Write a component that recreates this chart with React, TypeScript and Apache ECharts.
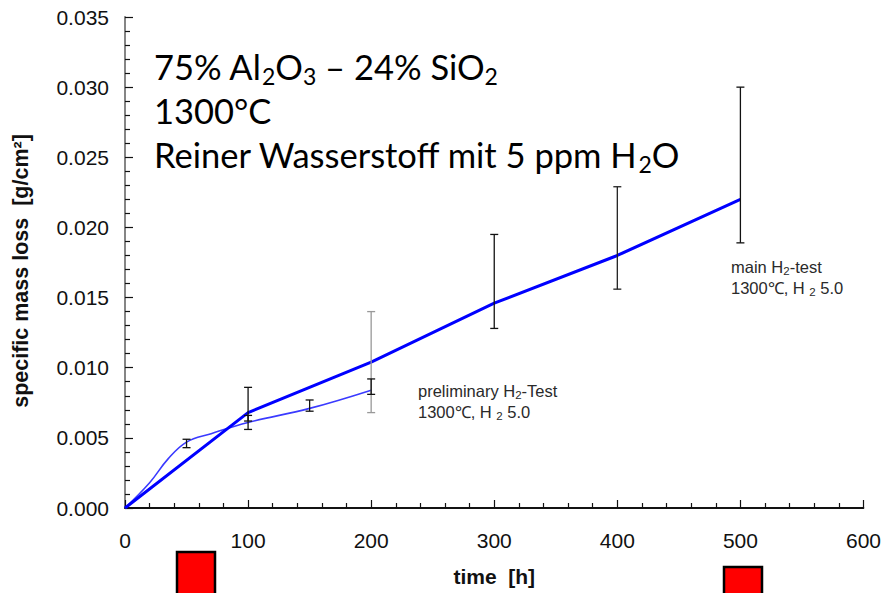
import React, { useEffect, useRef } from 'react';
import * as echarts from 'echarts';

// ---- data ----
const mainTimes = [0, 100, 200, 300, 400, 500];
const mainLoss = [0, 0.0068, 0.0104, 0.0146, 0.018, 0.022];
const mainErrTimes = [100, 200, 300, 400, 500];
const mainErrLow = [0.0056, 0.0068, 0.0128, 0.0156, 0.0189];
const mainErrHigh = [0.0086, 0.014, 0.0195, 0.0229, 0.03];

const prelimTimes = [0, 20, 35, 50, 70, 100, 150, 200];
const prelimLoss = [0, 0.0018, 0.0035, 0.0047, 0.0053, 0.0061, 0.0071, 0.0084];
const prelimErrTimes = [50, 100, 150, 200];
const prelimErrLow = [0.0043, 0.0062, 0.0069, 0.0081];
const prelimErrHigh = [0.0049, 0.0066, 0.0077, 0.0092];

const xTickLabels = ['0', '100', '200', '300', '400', '500', '600'];
const yTickLabels = ['0.000', '0.005', '0.010', '0.015', '0.020', '0.025', '0.030', '0.035'];

const mainErrColors = ['#111', '#999', '#111', '#222', '#111'];

const SANS = '"Liberation Sans", Arial, sans-serif';
const BIG = 'Lato, "Open Sans", sans-serif';

const makeErrRender = (colors: string[] | string) => (params: any, api: any) => {
  const x = api.value(0);
  const lo = api.coord([x, api.value(1)]);
  const hi = api.coord([x, api.value(2)]);
  const w = 4;
  const c = Array.isArray(colors) ? colors[params.dataIndex] : colors;
  const st = { stroke: c, lineWidth: 1.3 };
  return {
    type: 'group',
    children: [
      { type: 'line', shape: { x1: lo[0], y1: lo[1], x2: hi[0], y2: hi[1] }, style: st },
      { type: 'line', shape: { x1: lo[0] - w, y1: lo[1], x2: lo[0] + w, y2: lo[1] }, style: st },
      { type: 'line', shape: { x1: hi[0] - w, y1: hi[1], x2: hi[0] + w, y2: hi[1] }, style: st },
    ],
  };
};

export default function App() {
  const ref = useRef<HTMLDivElement>(null);
  useEffect(() => {
    if (!ref.current) return;
    const chart = echarts.init(ref.current, null, { renderer: 'svg' });

    const bigRich = {
      n: { fontSize: 34.5, fontFamily: BIG, fill: '#000', lineHeight: 44, verticalAlign: 'middle' },
      s: { fontSize: 23, fontFamily: BIG, fill: '#000', lineHeight: 22, padding: [20, 0, 0, 0], verticalAlign: 'middle' },
    };
    const smallRich = {
      n: { fontSize: 16.5, fontFamily: SANS, fill: '#2a2a2a', lineHeight: 21, verticalAlign: 'middle' },
      s: { fontSize: 11.5, fontFamily: SANS, fill: '#2a2a2a', lineHeight: 11, padding: [8, 0, 0, 0], verticalAlign: 'middle' },
    };

    chart.setOption({
      animation: false,
      backgroundColor: '#fff',
      grid: { left: 125, right: 19, top: 17, bottom: 85, containLabel: false },
      xAxis: [
        {
          type: 'value',
          min: 0,
          max: 600,
          interval: 100,
          name: 'time  [h]',
          nameLocation: 'middle',
          nameGap: 58,
          nameTextStyle: { fontFamily: SANS, fontSize: 21, fontWeight: 'bold', color: '#111' },
          axisLine: { show: true, lineStyle: { color: '#111', width: 1.5 } },
          axisTick: { show: true, inside: true, length: 8, lineStyle: { color: '#111', width: 1.2 } },
          minorTick: { show: true, splitNumber: 5, length: 5, lineStyle: { color: '#111', width: 1.2 } },
          axisLabel: {
            fontFamily: SANS,
            fontSize: 21,
            color: '#111',
            margin: 22,
            formatter: (v: number) => xTickLabels[Math.round(v / 100)] ?? String(v),
          },
          splitLine: { show: false },
        },
        {
          type: 'value',
          position: 'top',
          min: 0,
          max: 600,
          axisLine: { show: true, lineStyle: { color: '#000', width: 1.6 } },
          axisTick: { show: false },
          axisLabel: { show: false },
          splitLine: { show: false },
        },
      ],
      yAxis: [
        {
          type: 'value',
          min: 0,
          max: 0.035,
          interval: 0.005,
          axisLine: { show: true, lineStyle: { color: '#111', width: 1.5 } },
          axisTick: { show: true, inside: true, length: 8, lineStyle: { color: '#111', width: 1.2 } },
          minorTick: { show: true, splitNumber: 5, length: 5, lineStyle: { color: '#111', width: 1.2 } },
          axisLabel: {
            fontFamily: SANS,
            fontSize: 21,
            color: '#111',
            margin: 16,
            formatter: (v: number) => yTickLabels[Math.round(v / 0.005)] ?? v.toFixed(3),
          },
          splitLine: { show: false },
        },
        {
          type: 'value',
          position: 'right',
          min: 0,
          max: 0.035,
          axisLine: { show: true, lineStyle: { color: '#999', width: 1.5 } },
          axisTick: { show: false },
          axisLabel: { show: false },
          splitLine: { show: false },
        },
      ],
      series: [
        {
          name: 'preliminary',
          type: 'line',
          smooth: 0.4,
          showSymbol: false,
          symbol: 'none',
          data: prelimTimes.map((t, i) => [t, prelimLoss[i]]),
          lineStyle: { color: '#3a3aff', width: 1.6 },
          z: 2,
        },
        {
          name: 'main',
          type: 'line',
          showSymbol: false,
          symbol: 'none',
          data: mainTimes.map((t, i) => [t, mainLoss[i]]),
          lineStyle: { color: '#0000ff', width: 3 },
          z: 3,
        },
        {
          name: 'main error',
          type: 'custom',
          renderItem: makeErrRender(mainErrColors),
          encode: { x: 0, y: [1, 2] },
          data: mainErrTimes.map((t, i) => [t, mainErrLow[i], mainErrHigh[i]]),
          z: 4,
        },
        {
          name: 'prelim error',
          type: 'custom',
          renderItem: makeErrRender('#111'),
          encode: { x: 0, y: [1, 2] },
          data: prelimErrTimes.map((t, i) => [t, prelimErrLow[i], prelimErrHigh[i]]),
          z: 4,
        },
      ],
      graphic: [
        {
          type: 'text',
          x: 21,
          y: 271,
          rotation: Math.PI / 2,
          z: 10,
          style: {
            text: 'specific mass loss  [g/cm²]',
            fontFamily: SANS,
            fontSize: 21.5,
            fontWeight: 'bold',
            fill: '#111',
            align: 'center',
            verticalAlign: 'middle',
          },
        },
        {
          type: 'text',
          x: 154,
          y: 44,
          z: 10,
          style: {
            text:
              '{n|75% Al}{s|2}{n|O}{s|3}{n| – 24% SiO}{s|2}\n{n|1300°C}\n{n|Reiner Wasserstoff mit 5 ppm H}{s|2}{n|O}',
            rich: bigRich,
            verticalAlign: 'top',
            align: 'left',
          },
        },
        {
          type: 'text',
          x: 418,
          y: 380,
          z: 10,
          style: {
            text: '{n|preliminary H}{s|2}{n|-Test}\n{n|1300℃, H }{s|2}{n| 5.0}',
            rich: smallRich,
            verticalAlign: 'top',
            align: 'left',
          },
        },
        {
          type: 'text',
          x: 731,
          y: 256,
          z: 10,
          style: {
            text: '{n|main H}{s|2}{n|-test}\n{n|1300℃, H }{s|2}{n| 5.0}',
            rich: smallRich,
            verticalAlign: 'top',
            align: 'left',
          },
        },
        {
          type: 'rect',
          z: 10,
          shape: { x: 177, y: 552, width: 38, height: 50 },
          style: { fill: '#ff0000', stroke: '#000', lineWidth: 2.5 },
        },
        {
          type: 'rect',
          z: 10,
          shape: { x: 724, y: 567, width: 38, height: 40 },
          style: { fill: '#ff0000', stroke: '#000', lineWidth: 2.5 },
        },
      ],
    });
    return () => chart.dispose();
  }, []);
  return (
    <div
      ref={ref}
      style={{ position: 'fixed', left: 0, top: 0, width: 884, height: 593, background: '#fff' }}
    />
  );
}
